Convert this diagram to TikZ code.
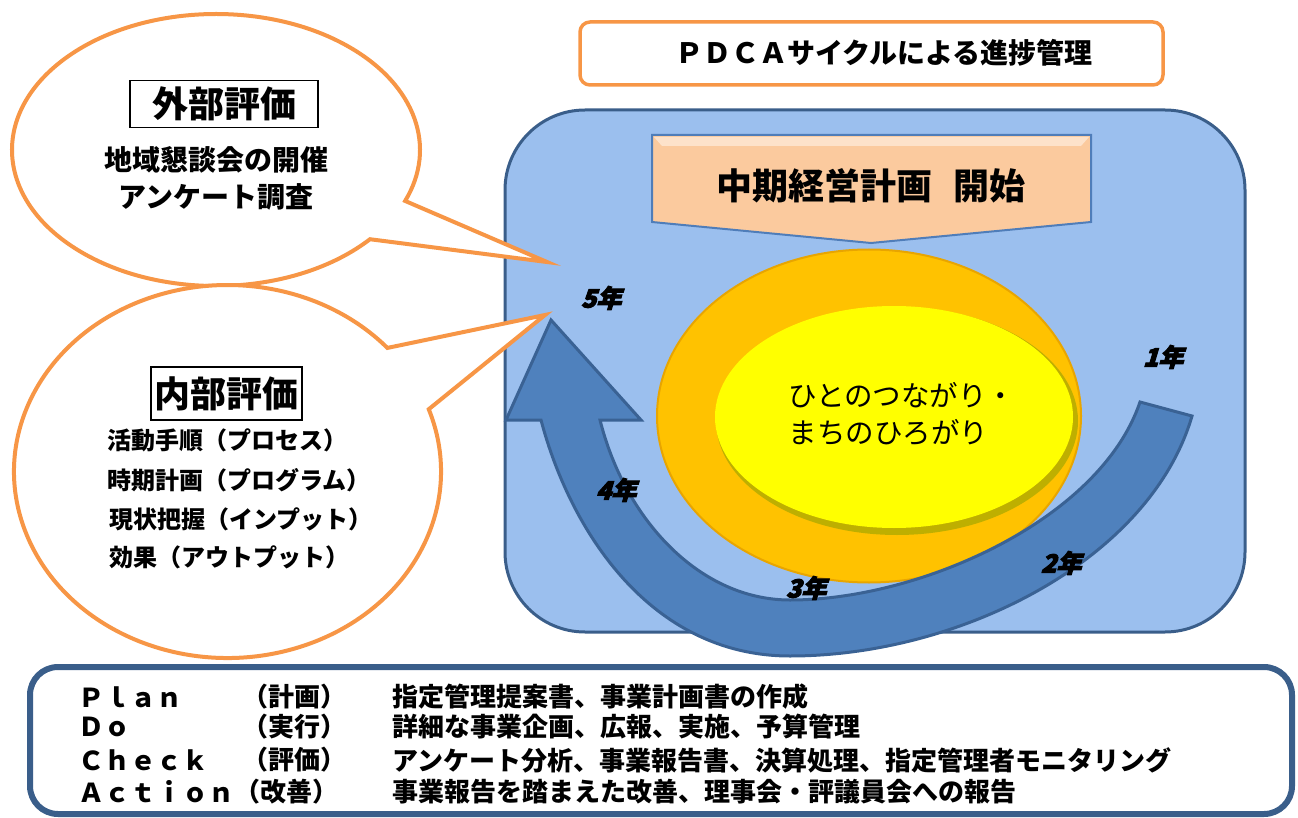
\documentclass[tikz,border=0pt]{standalone}
\usepackage{fontspec}
\setmainfont{Noto Sans CJK JP}
\newfontfamily\yearfont[FakeSlant=0.3,FakeBold=4]{Noto Sans CJK JP}
\usetikzlibrary{shapes.geometric}
\definecolor{boxblue}{RGB}{155,191,238}
\definecolor{boxedge}{RGB}{58,94,138}
\definecolor{arrowblue}{RGB}{79,129,189}
\definecolor{arrowedge}{RGB}{58,98,148}
\definecolor{peach}{RGB}{251,202,158}
\definecolor{banneredge}{RGB}{79,125,185}
\definecolor{gold}{RGB}{255,194,0}
\definecolor{goldedge}{RGB}{232,165,0}
\definecolor{yel}{RGB}{255,255,0}
\definecolor{yelshadow}{RGB}{190,175,0}
\definecolor{orangeline}{RGB}{247,150,70}
\tikzset{
  titlebox/.style={draw=orangeline, line width=3.5pt, rounded corners=10pt, fill=white, inner sep=0pt},
  bubble/.style={draw=orangeline, line width=4pt, fill=white, line join=miter},
  labelbox/.style={draw=black, line width=1.5pt, inner sep=0pt, font=\bfseries\fontsize{36}{40}\selectfont},
  bubbletext/.style={font=\bfseries\fontsize{28}{30}\selectfont, inner sep=0pt},
  listtext/.style={font=\bfseries\fontsize{24}{26}\selectfont, inner sep=0pt, anchor=west},
  yearlabel/.style={font=\yearfont\bfseries\fontsize{25}{26}\selectfont, inner sep=0pt},
  rowtext/.style={font=\bfseries\fontsize{26}{28}\selectfont, inner sep=0pt, anchor=west},
  arrowband/.style={fill=arrowblue, draw=arrowedge, line width=3pt, line join=miter},
}
\begin{document}
\begin{tikzpicture}[x=1pt,y=-1pt]
\useasboundingbox (0,0) rectangle (1298,818);

% title box
\node[titlebox, minimum width=583pt, minimum height=63pt] (title) at (871.5,53.5) {};
\node[font=\bfseries\fontsize{28}{30}\selectfont, inner sep=0pt] (titletext) at (884,53) {ＰＤＣＡサイクルによる進捗管理};

% big blue box
\node[draw=boxedge, fill=boxblue, line width=3pt, rounded corners=80pt, minimum width=740pt, minimum height=522pt, inner sep=0pt] (cycle) at (875,371) {};

% banner
\draw[fill=peach, draw=banneredge, line width=2pt, line join=miter] (652,135) -- (1091,135) -- (1091,222) -- (871,243) -- (652,222) -- cycle;
\fill[peach!55!white] (654,137) -- (1089,137) -- (1081,146) -- (662,146) -- cycle;
\node[font=\bfseries\fontsize{36}{40}\selectfont, inner sep=0pt] (banner) at (871,186) {中期経営計画\hspace{0.6em}開始};

% ellipses
\node[ellipse, fill=gold, draw=goldedge, line width=2pt, minimum width=424pt, minimum height=333pt, inner sep=0pt] (outer) at (869,416) {};
\node[ellipse, fill=yelshadow, minimum width=362pt, minimum height=228pt, inner sep=0pt] (innershadow) at (897,421) {};
\node[ellipse, fill=yel, minimum width=358pt, minimum height=222pt, inner sep=0pt] (inner) at (894,417) {};
\node[font=\fontsize{28.5}{37}\selectfont, align=left, inner sep=0pt] (motto) at (902,414) {ひとのつながり・\\まちのひろがり};

% cycle arrow
\draw[arrowband] (1140,402) -- (1192,416)
  .. controls (1150,560) and (960,656) .. (790,656)
  .. controls (650,656) and (570,530) .. (541,420)
  -- (506,420) -- (551,320) -- (641,420) -- (600,420)
  .. controls (625,520) and (700,600) .. (790,600)
  .. controls (920,600) and (1100,520) .. (1140,402) -- cycle;

% year labels
\node[yearlabel] (y5) at (601,298) {5年};
\node[yearlabel] (y1) at (1163,357) {1年};
\node[yearlabel] (y4) at (616,490) {4年};
\node[yearlabel] (y3) at (806,588) {3年};
\node[yearlabel] (y2) at (1061,563) {2年};

% upper bubble
\draw[bubble] (216,150) ++(41:204 and 136) arc[start angle=41, end angle=382, x radius=204, y radius=136] -- (547,262) -- cycle;
\node[labelbox, minimum width=188pt, minimum height=47pt] (ext) at (224,104) {外部評価};
\node[bubbletext] (ext1) at (216,160) {地域懇談会の開催};
\node[bubbletext] (ext2) at (216,197) {アンケート調査};

% lower bubble
\draw[bubble] (227.5,471.5) ++(-19.5:213.5 and 186.5) arc[start angle=-19.5, end angle=318.5, x radius=213.5, y radius=186.5] -- (545,315) -- cycle;
\node[labelbox, minimum width=151pt, minimum height=53pt] (int) at (226.5,393.5) {内部評価};
\node[listtext] (int1) at (107,440) {活動手順（プロセス）};
\node[listtext] (int2) at (107,480) {時期計画（プログラム）};
\node[listtext] (int3) at (109,519) {現状把握（インプット）};
\node[listtext] (int4) at (109,557) {効果（アウトプット）};

% bottom PDCA box
\node[draw=boxedge, fill=white, line width=6pt, rounded corners=28pt, minimum width=1262pt, minimum height=147pt, inner sep=0pt] (pdca) at (661,740.5) {};
\node[rowtext] (p1) at (78,697) {Ｐｌａｎ};
\node[rowtext] (p2) at (242,697) {（計画）};
\node[rowtext] (p3) at (392,697) {指定管理提案書、事業計画書の作成};
\node[rowtext] (d1) at (78,727) {Ｄｏ};
\node[rowtext] (d2) at (242,727) {（実行）};
\node[rowtext] (d3) at (392,727) {詳細な事業企画、広報、実施、予算管理};
\node[rowtext] (c1) at (78,760) {Ｃｈｅｃｋ};
\node[rowtext] (c2) at (242,760) {（評価）};
\node[rowtext] (c3) at (392,760) {アンケート分析、事業報告書、決算処理、指定管理者モニタリング};
\node[rowtext] (a1) at (78,792) {Ａｃｔｉｏｎ};
\node[rowtext] (a2) at (234,792) {（改善）};
\node[rowtext] (a3) at (392,792) {事業報告を踏まえた改善、理事会・評議員会への報告};
\end{tikzpicture}
\end{document}
